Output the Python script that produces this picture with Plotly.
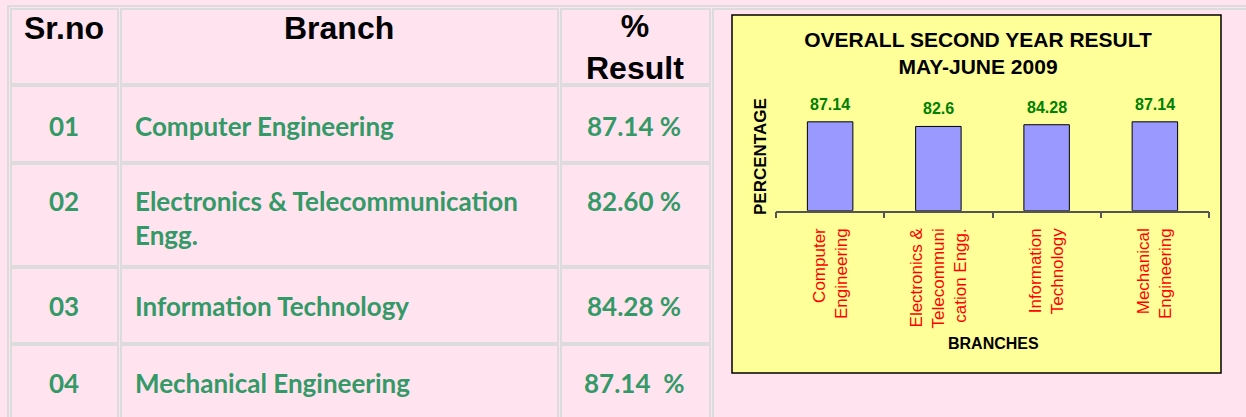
import plotly.graph_objects as go

W, H = 1246, 417

# ---------------- data ----------------
header = ["Sr.no", "Branch", "%<br>Result"]
sr_no = ["01", "02", "03", "04"]
branches = ["Computer Engineering",
            "Electronics & Telecommunication<br>Engg.",
            "Information Technology",
            "Mechanical Engineering"]
results_text = ["87.14 %", "82.60 %", "84.28 %", "87.14\u00a0 %"]

chart_categories = ["Computer<br>Engineering",
                    "Electronics &<br>Telecommuni<br>cation Engg.",
                    "Information<br>Technology",
                    "Mechanical<br>Engineering"]
chart_values = [87.14, 82.6, 84.28, 87.14]
value_labels = ["87.14", "82.6", "84.28", "87.14"]
chart_title = "OVERALL SECOND YEAR RESULT<br>MAY-JUNE 2009"
x_title = "BRANCHES"
y_title = "PERCENTAGE"

# ---------------- helpers ----------------
def px(x):
    return x / W

def py(y):
    return 1 - y / H

PINK = "#FFE4F0"
GRID = "#DCDCDC"
GREEN_T = "#339966"
ARIAL = "Arial, Liberation Sans, sans-serif"
BODY_FONT = "Lato, Noto Sans, sans-serif"
BODY_SIZE = 26

fig = go.Figure()

fig.add_trace(go.Bar(
    x=chart_categories, y=chart_values,
    marker=dict(color="#9999FF", line=dict(color="#000000", width=1)),
    hoverinfo="skip", showlegend=False,
))

shapes = []
# outer table border
shapes.append(dict(type="rect", xref="paper", yref="paper",
                   x0=px(8), x1=px(1252), y0=py(425), y1=py(6),
                   line=dict(color=GRID, width=2), fillcolor="rgba(0,0,0,0)", layer="below"))
col_edges = [(11, 118), (121, 558), (561, 710)]
row_edges = [(9, 84), (86, 162), (164, 266), (268, 343), (345, 425)]
for (x0, x1) in col_edges:
    for (y0, y1) in row_edges:
        shapes.append(dict(type="rect", xref="paper", yref="paper",
                           x0=px(x0), x1=px(x1), y0=py(y1), y1=py(y0),
                           line=dict(color=GRID, width=2), fillcolor="rgba(0,0,0,0)", layer="below"))
# chart cell
shapes.append(dict(type="rect", xref="paper", yref="paper",
                   x0=px(713), x1=px(1252), y0=py(425), y1=py(9),
                   line=dict(color=GRID, width=2), fillcolor="rgba(0,0,0,0)", layer="below"))
# chart background box
shapes.append(dict(type="rect", xref="paper", yref="paper",
                   x0=px(732), x1=px(1221), y0=py(373), y1=py(15),
                   line=dict(color="#000000", width=1.5), fillcolor="#FFFF99", layer="below"))

annotations = []
# header
hdr_x = [64, 339, 635]
hdr_y = [28, 28, 47]
for t, x, y in zip(header, hdr_x, hdr_y):
    annotations.append(dict(xref="paper", yref="paper", x=px(x), y=py(y), text=t,
                            showarrow=False, xanchor="center", yanchor="middle",
                            font=dict(family=ARIAL, size=32, color="#000000", weight="bold")))
# body rows
line_centers = [125, 200, 305, 382]
for i in range(4):
    ytop = py(line_centers[i] - 17)
    annotations.append(dict(xref="paper", yref="paper", x=px(64), y=ytop, text=sr_no[i],
                            showarrow=False, xanchor="center", yanchor="top",
                            font=dict(family=BODY_FONT, size=BODY_SIZE, color=GREEN_T, weight="bold")))
    annotations.append(dict(xref="paper", yref="paper", x=px(133), y=ytop, text=branches[i],
                            showarrow=False, xanchor="left", yanchor="top", align="left",
                            font=dict(family=BODY_FONT, size=BODY_SIZE, color=GREEN_T, weight="bold")))
    annotations.append(dict(xref="paper", yref="paper", x=px(634), y=ytop, text=results_text[i],
                            showarrow=False, xanchor="center", yanchor="top",
                            font=dict(family=BODY_FONT, size=BODY_SIZE, color=GREEN_T, weight="bold")))

# value labels above bars
for c, v, t in zip(chart_categories, chart_values, value_labels):
    annotations.append(dict(xref="x", yref="y", x=c, y=v, text=t, showarrow=False,
                            xanchor="center", yanchor="bottom", yshift=7,
                            font=dict(family=ARIAL, size=16, color="#008000", weight="bold")))
# axis titles
annotations.append(dict(xref="paper", yref="paper", x=px(993), y=py(343), text=x_title,
                        showarrow=False, xanchor="center", yanchor="middle",
                        font=dict(family=ARIAL, size=16, color="#000000", weight="bold")))
annotations.append(dict(xref="paper", yref="paper", x=px(760), y=py(157), text=y_title,
                        showarrow=False, xanchor="center", yanchor="middle", textangle=-90,
                        font=dict(family=ARIAL, size=17, color="#000000", weight="bold")))

fig.update_layout(
    width=W, height=H,
    margin=dict(l=0, r=0, t=0, b=0),
    paper_bgcolor=PINK, plot_bgcolor="rgba(0,0,0,0)",
    bargap=0.58,
    title=dict(text=chart_title, x=px(978), y=py(46.5), xanchor="center", yanchor="middle",
               xref="paper", yref="paper",
               font=dict(family=ARIAL, size=21, color="#000000", weight="bold")),
    xaxis=dict(domain=[px(776), px(1209)], anchor="y",
               showline=True, linecolor="#555555", linewidth=1.5,
               ticks="outside", tickson="boundaries", ticklen=6, tickcolor="#555555", tickwidth=1.5,
               tickangle=-90, ticklabelstandoff=9,
               tickfont=dict(family=ARIAL, size=17, color="#FF0000"),
               showgrid=False, zeroline=False, fixedrange=True),
    yaxis=dict(domain=[py(210.7), py(108.7)], range=[0, 100],
               visible=False, fixedrange=True),
    shapes=shapes, annotations=annotations,
    showlegend=False,
)

fig.write_html("out.html", config={"displayModeBar": False},
               post_script="document.body.style.margin='0';document.body.style.background='" + PINK + "';")
